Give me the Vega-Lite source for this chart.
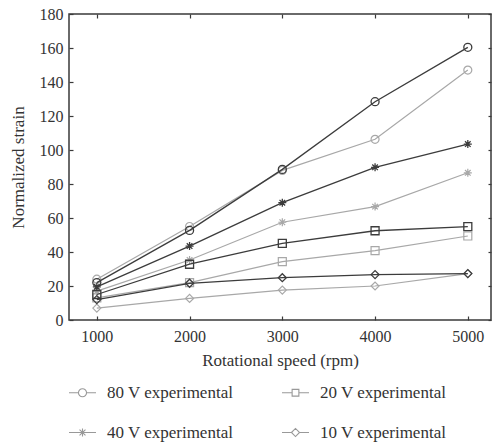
{
  "$schema": "https://vega.github.io/schema/vega-lite/v6.json",
  "autosize": {"type": "none"},
  "width": 422,
  "height": 306,
  "padding": {"left": 69, "top": 14, "right": 2, "bottom": 126},
  "background": "white",
  "config": {
    "font": "Liberation Serif",
    "view": {"stroke": "#3a3a3a", "strokeWidth": 1.5},
    "axis": {
      "grid": false,
      "domain": false,
      "tickColor": "#3a3a3a",
      "tickWidth": 1.2,
      "labelFont": "Liberation Serif",
      "labelFontSize": 16,
      "labelColor": "#333",
      "titleFont": "Liberation Serif",
      "titleFontSize": 17,
      "titleFontWeight": "normal",
      "titleColor": "#333"
    },
    "legend": {
      "labelFont": "Liberation Serif",
      "labelFontSize": 17,
      "labelColor": "#333"
    }
  },
  "data": {
    "values": [
      {"speed": 1000, "strain": 24, "volt": "80 V", "kind": "exp"},
      {"speed": 2000, "strain": 55, "volt": "80 V", "kind": "exp"},
      {"speed": 3000, "strain": 88, "volt": "80 V", "kind": "exp"},
      {"speed": 4000, "strain": 106.3, "volt": "80 V", "kind": "exp"},
      {"speed": 5000, "strain": 147, "volt": "80 V", "kind": "exp"},
      {"speed": 1000, "strain": 17, "volt": "40 V", "kind": "exp"},
      {"speed": 2000, "strain": 35.3, "volt": "40 V", "kind": "exp"},
      {"speed": 3000, "strain": 57.5, "volt": "40 V", "kind": "exp"},
      {"speed": 4000, "strain": 66.7, "volt": "40 V", "kind": "exp"},
      {"speed": 5000, "strain": 86.6, "volt": "40 V", "kind": "exp"},
      {"speed": 1000, "strain": 13, "volt": "20 V", "kind": "exp"},
      {"speed": 2000, "strain": 22, "volt": "20 V", "kind": "exp"},
      {"speed": 3000, "strain": 34.3, "volt": "20 V", "kind": "exp"},
      {"speed": 4000, "strain": 40.8, "volt": "20 V", "kind": "exp"},
      {"speed": 5000, "strain": 49.4, "volt": "20 V", "kind": "exp"},
      {"speed": 1000, "strain": 7, "volt": "10 V", "kind": "exp"},
      {"speed": 2000, "strain": 12.7, "volt": "10 V", "kind": "exp"},
      {"speed": 3000, "strain": 17.6, "volt": "10 V", "kind": "exp"},
      {"speed": 4000, "strain": 20, "volt": "10 V", "kind": "exp"},
      {"speed": 5000, "strain": 27.3, "volt": "10 V", "kind": "exp"},
      {"speed": 1000, "strain": 22, "volt": "80 V", "kind": "sim"},
      {"speed": 2000, "strain": 52.7, "volt": "80 V", "kind": "sim"},
      {"speed": 3000, "strain": 88.6, "volt": "80 V", "kind": "sim"},
      {"speed": 4000, "strain": 128.4, "volt": "80 V", "kind": "sim"},
      {"speed": 5000, "strain": 160.4, "volt": "80 V", "kind": "sim"},
      {"speed": 1000, "strain": 19.5, "volt": "40 V", "kind": "sim"},
      {"speed": 2000, "strain": 43.5, "volt": "40 V", "kind": "sim"},
      {"speed": 3000, "strain": 69, "volt": "40 V", "kind": "sim"},
      {"speed": 4000, "strain": 89.8, "volt": "40 V", "kind": "sim"},
      {"speed": 5000, "strain": 103.5, "volt": "40 V", "kind": "sim"},
      {"speed": 1000, "strain": 15, "volt": "20 V", "kind": "sim"},
      {"speed": 2000, "strain": 32.8, "volt": "20 V", "kind": "sim"},
      {"speed": 3000, "strain": 45.1, "volt": "20 V", "kind": "sim"},
      {"speed": 4000, "strain": 52.5, "volt": "20 V", "kind": "sim"},
      {"speed": 5000, "strain": 54.9, "volt": "20 V", "kind": "sim"},
      {"speed": 1000, "strain": 12, "volt": "10 V", "kind": "sim"},
      {"speed": 2000, "strain": 21.6, "volt": "10 V", "kind": "sim"},
      {"speed": 3000, "strain": 24.9, "volt": "10 V", "kind": "sim"},
      {"speed": 4000, "strain": 26.7, "volt": "10 V", "kind": "sim"},
      {"speed": 5000, "strain": 27.3, "volt": "10 V", "kind": "sim"}
    ]
  },
  "layer": [
    {
      "transform": [{"filter": "datum.kind === 'exp'"}],
      "mark": {"type": "line", "color": "#a8a8a8", "strokeWidth": 1.2},
      "encoding": {
        "x": {"field": "speed", "type": "quantitative", "scale": {"domain": [700, 5250], "nice": false, "zero": false},
          "axis": {"values": [1000, 2000, 3000, 4000, 5000], "title": "Rotational speed (rpm)", "tickSize": -4, "labelPadding": 12, "titlePadding": 8, "format": "d"}},
        "y": {"field": "strain", "type": "quantitative", "scale": {"domain": [0, 180], "nice": false},
          "axis": {"values": [0, 20, 40, 60, 80, 100, 120, 140, 160, 180], "title": "Normalized strain", "tickSize": -4, "labelPadding": 10, "titlePadding": 12}},
        "detail": {"field": "volt"}
      }
    },
    {
      "transform": [{"filter": "datum.kind === 'exp'"}],
      "mark": {"type": "point", "filled": false, "color": "#a8a8a8", "strokeWidth": 1.2, "size": 64, "opacity": 1},
      "encoding": {
        "x": {"field": "speed", "type": "quantitative", "axis": null},
        "y": {"field": "strain", "type": "quantitative", "axis": null},
        "shape": {"field": "volt", "legend": null, "scale": {"domain": ["80 V", "40 V", "20 V", "10 V"],
          "range": ["circle", "M-1,0L1,0M0,-1L0,1M-0.7,-0.7L0.7,0.7M-0.7,0.7L0.7,-0.7", "square", "diamond"]}}
      }
    },
    {
      "transform": [{"filter": "datum.kind === 'sim'"}],
      "mark": {"type": "line", "color": "#3c3c3c", "strokeWidth": 1.3},
      "encoding": {
        "x": {"field": "speed", "type": "quantitative",
          "axis": {"orient": "top", "values": [1000, 2000, 3000, 4000, 5000], "labels": false, "title": null, "tickSize": -4}},
        "y": {"field": "strain", "type": "quantitative",
          "axis": {"orient": "right", "values": [0, 20, 40, 60, 80, 100, 120, 140, 160, 180], "labels": false, "title": null, "tickSize": -3}},
        "detail": {"field": "volt"}
      }
    },
    {
      "transform": [{"filter": "datum.kind === 'sim'"}],
      "mark": {"type": "point", "filled": false, "color": "#3c3c3c", "strokeWidth": 1.3, "size": 64, "opacity": 1},
      "encoding": {
        "x": {"field": "speed", "type": "quantitative", "axis": null},
        "y": {"field": "strain", "type": "quantitative", "axis": null},
        "shape": {"field": "volt", "legend": null, "scale": {"domain": ["80 V", "40 V", "20 V", "10 V"],
          "range": ["circle", "M-1,0L1,0M0,-1L0,1M-0.7,-0.7L0.7,0.7M-0.7,0.7L0.7,-0.7", "square", "diamond"]}}
      }
    },
    {
      "transform": [{"filter": "datum.speed < 0"}, {"calculate": "datum.volt + ' experimental'", "as": "label"}],
      "mark": {"type": "point", "filled": false, "color": "#999999", "strokeWidth": 1.1, "opacity": 1},
      "encoding": {
        "x": {"field": "speed", "type": "quantitative", "axis": null},
        "y": {"field": "strain", "type": "quantitative", "axis": null},
        "shape": {"field": "label", "type": "nominal",
          "scale": {"domain": ["80 V experimental", "20 V experimental", "40 V experimental", "10 V experimental"],
            "range": [
              "M-1,0L-0.3,0M0.3,0L1,0M-0.3,0A0.3,0.3 0 1,0 0.3,0A0.3,0.3 0 1,0 -0.3,0",
              "M-1,0L-0.25,0M0.25,0L1,0M-0.25,-0.25L0.25,-0.25L0.25,0.25L-0.25,0.25Z",
              "M-1,0L1,0M0,-0.3L0,0.3M-0.22,-0.22L0.22,0.22M-0.22,0.22L0.22,-0.22",
              "M-1,0L-0.3,0M0.3,0L1,0M-0.3,0L0,-0.3L0.3,0L0,0.3Z"
            ]},
          "legend": {
            "title": null, "orient": "none", "legendX": -1, "legendY": 364, "direction": "horizontal",
            "columns": 2, "columnPadding": 45, "rowPadding": 17, "padding": 0,
            "symbolSize": 729, "symbolStrokeColor": "#999999", "symbolFillColor": "transparent", "symbolStrokeWidth": 1.1,
            "symbolOpacity": 1, "labelOffset": 10, "labelLimit": 300
          }
        }
      }
    }
  ],
  "resolve": {"scale": {"shape": "independent"}, "axis": {"x": "independent", "y": "independent"}}
}
